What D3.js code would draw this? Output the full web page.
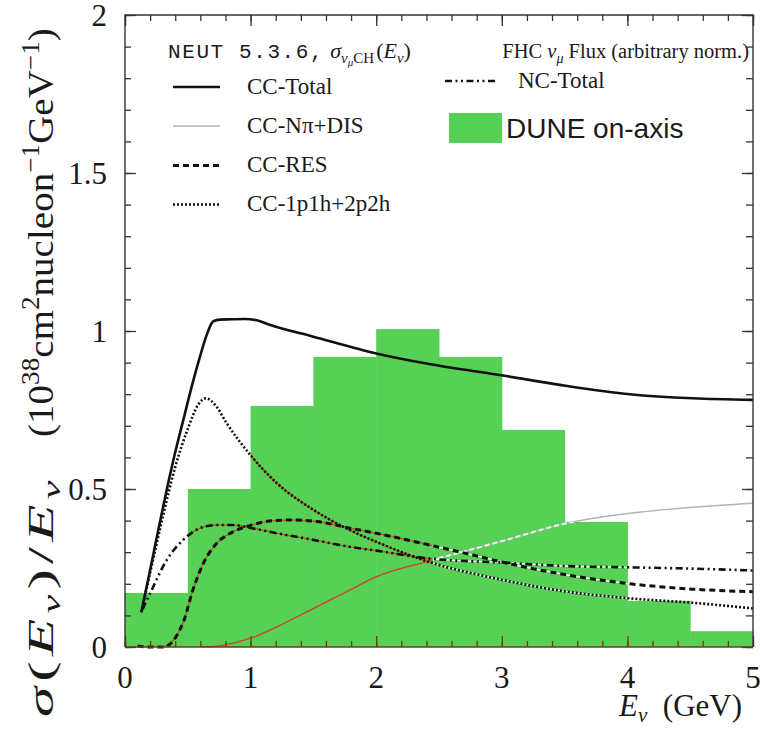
<!DOCTYPE html>
<html>
<head>
<meta charset="utf-8">
<script src="https://cdn.jsdelivr.net/npm/d3@7"></script>
<style>
  body { margin: 0; background: #fff; }
  text { fill: #1a1a1a; }
</style>
</head>
<body>
<script>
const width = 762;
const height = 736;

// flux histogram (DUNE on-axis, arbitrary norm.)
const binEdges = [0, 0.5, 1, 1.5, 2, 2.5, 3, 3.5, 4, 4.5, 5];
const fluxValues = [0.171, 0.50, 0.763, 0.918, 1.006, 0.918, 0.687, 0.396, 0.146, 0.05];

// NEUT curves
const ccTotalE = [0.13, 0.2, 0.265, 0.332, 0.398, 0.464, 0.531, 0.597, 0.65, 0.703, 0.756, 0.85, 0.95, 1.05, 1.15, 1.5, 2.0, 2.4, 3.01, 3.52, 4.02, 4.52, 5.0];
const ccTotalV = [0.11, 0.244, 0.37, 0.497, 0.613, 0.718, 0.824, 0.919, 0.987, 1.031, 1.036, 1.037, 1.038, 1.034, 1.02, 0.982, 0.929, 0.897, 0.859, 0.826, 0.80, 0.787, 0.782];

const ccNpiE = [0.6, 0.77, 1.01, 1.21, 1.5, 1.79, 2.0, 2.4, 2.77, 3.01, 3.52, 4.02, 4.52, 5.0];
const ccNpiV = [0.0, 0.005, 0.029, 0.064, 0.122, 0.18, 0.222, 0.27, 0.31, 0.336, 0.392, 0.423, 0.442, 0.455];

const ccResE = [0.1, 0.2, 0.3, 0.36, 0.41, 0.47, 0.54, 0.624, 0.73, 0.863, 1.01, 1.18, 1.34, 1.53, 1.79, 2.0, 2.4, 2.77, 3.01, 3.52, 4.02, 4.52, 5.0];
const ccResV = [0.003, 0.0, 0.0, 0.01, 0.035, 0.085, 0.18, 0.265, 0.328, 0.365, 0.386, 0.40, 0.402, 0.397, 0.376, 0.36, 0.325, 0.291, 0.268, 0.228, 0.2, 0.183, 0.175];

const ccQeE = [0.13, 0.2, 0.3, 0.4, 0.5, 0.58, 0.645, 0.72, 0.81, 1.01, 1.21, 1.5, 1.79, 2.0, 2.4, 3.01, 3.52, 4.02, 4.52, 5.0];
const ccQeV = [0.11, 0.235, 0.41, 0.57, 0.69, 0.765, 0.787, 0.765, 0.708, 0.602, 0.518, 0.434, 0.37, 0.333, 0.272, 0.212, 0.175, 0.154, 0.140, 0.122];

const ncTotalE = [0.14, 0.2, 0.332, 0.464, 0.597, 0.73, 0.862, 1.01, 1.21, 1.5, 1.79, 2.0, 2.4, 3.01, 3.52, 4.02, 4.52, 5.0];
const ncTotalV = [0.12, 0.17, 0.275, 0.339, 0.376, 0.386, 0.386, 0.376, 0.36, 0.339, 0.317, 0.305, 0.281, 0.267, 0.256, 0.252, 0.248, 0.242];

// axes
const xMajor = [0, 1, 2, 3, 4, 5];
const yMajor = [0, 0.5, 1, 1.5, 2];
const yMajorLabels = ["0", "0.5", "1", "1.5", "2"];

const green = "#56d156";
const brown = "#b4581e";

const svg = d3.select("body").append("svg")
  .attr("width", width)
  .attr("height", height);

const x = d3.scaleLinear().domain([0, 5]).range([125, 753]);
const y = d3.scaleLinear().domain([0, 2]).range([647, 15]);

// histogram
const bins = fluxValues.map((v, i) => ({ x0: binEdges[i], x1: binEdges[i + 1], v: v }));

svg.append("g").selectAll("rect")
  .data(bins)
  .join("rect")
  .attr("x", d => x(d.x0))
  .attr("y", d => y(d.v))
  .attr("width", d => x(d.x1) - x(d.x0) + 0.5)
  .attr("height", d => y(0) - y(d.v))
  .attr("fill", green);

// clip areas where the lines look tinted over the green
function makeClip(id, lo, hi) {
  const cp = svg.append("clipPath").attr("id", id);
  bins.forEach(b => {
    const a = Math.max(b.x0, lo), c = Math.min(b.x1, hi);
    if (c > a) {
      cp.append("rect")
        .attr("x", x(a)).attr("width", x(c) - x(a))
        .attr("y", y(b.v)).attr("height", y(0) - y(b.v));
    }
  });
}
makeClip("clipOrange", 0.3, 2.45);
makeClip("clipWhite", 2.45, 4.0);

const line = d3.line()
  .x(d => x(d[0]))
  .y(d => y(d[1]))
  .curve(d3.curveMonotoneX);

const pts = (E, V) => E.map((e, i) => [e, V[i]]);

const curves = {
  total: pts(ccTotalE, ccTotalV),
  npi: pts(ccNpiE, ccNpiV),
  res: pts(ccResE, ccResV),
  qe: pts(ccQeE, ccQeV),
  nc: pts(ncTotalE, ncTotalV)
};

const plot = svg.append("g").attr("fill", "none");

// CC-Npi+DIS: grey, brown over the low bins, whitish further right
plot.append("path").attr("d", line(curves.npi))
  .attr("stroke", "#b3b3b3").attr("stroke-width", 1.5);
plot.append("path").attr("d", line(curves.npi))
  .attr("clip-path", "url(#clipOrange)")
  .attr("stroke", brown).attr("stroke-width", 1.6);
plot.append("path").attr("d", line(curves.npi))
  .attr("clip-path", "url(#clipWhite)")
  .attr("stroke", "#f2f2f2").attr("stroke-width", 2).attr("stroke-dasharray", "5,3");

// tinted under-strokes for the broken lines
["res", "qe", "nc"].forEach(k => {
  plot.append("path").attr("d", line(curves[k]))
    .attr("clip-path", "url(#clipOrange)")
    .attr("stroke", brown).attr("stroke-width", 1.4);
  plot.append("path").attr("d", line(curves[k]))
    .attr("clip-path", "url(#clipWhite)")
    .attr("stroke", "#eef7ee").attr("stroke-width", 1.6);
});

const styles = {
  total: { dash: null, w: 2.6 },
  res: { dash: "6,4", w: 3 },
  qe: { dash: "2,2", w: 2.6 },
  nc: { dash: "7,3.5,2,3.5,2,3.5", w: 2.6 }
};

["nc", "res", "qe", "total"].forEach(k => {
  plot.append("path").attr("d", line(curves[k]))
    .attr("stroke", "#111")
    .attr("stroke-width", styles[k].w)
    .attr("stroke-dasharray", styles[k].dash);
});

// frame + ticks (all pointing inward)
const xMinor = d3.range(0, 5.001, 0.2);
const yMinor = d3.range(0, 2.001, 0.1);

function ticks(axisFn, scale, vals, size, tx, ty, col) {
  const g = svg.append("g")
    .attr("transform", `translate(${tx},${ty})`)
    .call(axisFn(scale).tickValues(vals).tickSize(-size).tickSizeOuter(0).tickFormat(""));
  g.select(".domain").remove();
  g.selectAll("line").attr("stroke", col).attr("stroke-width", 1.3);
  return g;
}
ticks(d3.axisBottom, x, xMinor, 6, 0, 647, "#6b3b1b");
ticks(d3.axisBottom, x, xMajor, 11, 0, 647, "#6b3b1b");
ticks(d3.axisTop, x, xMinor, 6, 0, 15, "#333");
ticks(d3.axisTop, x, xMajor, 11, 0, 15, "#333");
ticks(d3.axisLeft, y, yMinor, 6, 125, 0, "#333");
ticks(d3.axisLeft, y, yMajor, 11, 125, 0, "#333");
ticks(d3.axisRight, y, yMinor, 7, 753, 0, "#333");
ticks(d3.axisRight, y, yMajor, 11, 753, 0, "#333");

svg.append("path")
  .attr("d", `M${x(0)},${y(0)}V${y(2)}H${x(5)}V${y(0)}`)
  .attr("fill", "none").attr("stroke", "#333").attr("stroke-width", 1.4);
svg.append("line")
  .attr("x1", x(0)).attr("x2", x(5)).attr("y1", y(0)).attr("y2", y(0))
  .attr("stroke", "#6b3b1b").attr("stroke-width", 1.6);

// tick labels
const serif = "'Liberation Serif', 'DejaVu Serif', serif";

svg.append("g").selectAll("text")
  .data(xMajor)
  .join("text")
  .attr("x", d => x(d))
  .attr("y", 688)
  .attr("text-anchor", "middle")
  .style("font-family", serif)
  .style("font-size", "31px")
  .text(d => d);

svg.append("g").selectAll("text")
  .data(yMajor)
  .join("text")
  .attr("x", 107)
  .attr("y", d => y(d) + 11)
  .attr("text-anchor", "end")
  .style("font-family", serif)
  .style("font-size", "31px")
  .text((d, i) => yMajorLabels[i]);

// x title
const xt = svg.append("text")
  .attr("x", 742).attr("y", 716)
  .attr("text-anchor", "end")
  .style("font-family", serif)
  .style("font-size", "31px");
xt.append("tspan").style("font-style", "italic").text("E");
xt.append("tspan").style("font-style", "italic").style("font-size", "21px").attr("dy", 6).text("ν");
xt.append("tspan").attr("dy", -6).text("\u2002(GeV)");

// y title: two pieces, slightly widened, the math part also spaced out
function yTitlePart(from, to, stretch, build) {
  const t = svg.append("text")
    .style("font-family", serif)
    .style("font-size", "36px");
  build(t);
  const n = t.text().length;
  const len = t.node().getComputedTextLength();
  const ls = Math.max(0, ((from - to) / stretch - len) / n);
  t.style("letter-spacing", `${ls}px`)
    .attr("transform", `translate(53,${from}) rotate(-90) scale(${stretch},1)`);
}
yTitlePart(717, 475, 1.7, t => {
  t.append("tspan").style("font-style", "italic").text("σ");
  t.append("tspan").text("(");
  t.append("tspan").style("font-style", "italic").text("E");
  t.append("tspan").style("font-style", "italic").style("font-size", "25px").attr("dy", 7).text("ν");
  t.append("tspan").attr("dy", -7).text(")/");
  t.append("tspan").style("font-style", "italic").text("E");
  t.append("tspan").style("font-style", "italic").style("font-size", "25px").attr("dy", 7).text("ν");
});
yTitlePart(437, 28, 1.08, t => {
  t.append("tspan").text("(10");
  t.append("tspan").style("font-size", "25px").attr("dy", -14).text("38");
  t.append("tspan").attr("dy", 14).text("cm");
  t.append("tspan").style("font-size", "25px").attr("dy", -14).text("2");
  t.append("tspan").attr("dy", 14).text("nucleon");
  t.append("tspan").style("font-size", "25px").attr("dy", -14).text("−1");
  t.append("tspan").attr("dy", 14).text("GeV");
  t.append("tspan").style("font-size", "25px").attr("dy", -14).text("−1");
  t.append("tspan").attr("dy", 14).text(")");
});

// legend
const lg = svg.append("g");

const head = lg.append("text").attr("x", 168).attr("y", 58)
  .style("font-family", serif).style("font-size", "22px");
head.append("tspan").style("font-family", "'Liberation Mono', 'DejaVu Sans Mono', monospace")
  .style("font-size", "21px").style("letter-spacing", "1.6px").text("NEUT 5.3.6,");
head.append("tspan").attr("dx", 6).style("font-style", "italic").text("σ");
head.append("tspan").style("font-style", "italic").style("font-size", "15px").attr("dy", 5).text("ν");
head.append("tspan").style("font-style", "italic").style("font-size", "11px").attr("dy", 3).text("μ");
head.append("tspan").style("font-size", "15px").attr("dy", -3).text("CH");
head.append("tspan").attr("dy", -5).attr("dx", 2).text("(");
head.append("tspan").style("font-style", "italic").text("E");
head.append("tspan").style("font-style", "italic").style("font-size", "15px").attr("dy", 5).text("ν");
head.append("tspan").attr("dy", -5).text(")");

const fhc = lg.append("text").attr("x", 749).attr("y", 58)
  .attr("text-anchor", "end")
  .style("font-family", serif).style("font-size", "20.5px");
fhc.append("tspan").text("FHC ");
fhc.append("tspan").style("font-style", "italic").text("ν");
fhc.append("tspan").style("font-style", "italic").style("font-size", "14px").attr("dy", 5).text("μ");
fhc.append("tspan").attr("dy", -5).text(" Flux (arbitrary norm.)");

const legendNames = ["CC-Total", "CC-Nπ+DIS", "CC-RES", "CC-1p1h+2p2h", "NC-Total"];
const legendKeys = ["total", "npi", "res", "qe", "nc"];
const legendPos = [[173, 87], [173, 126], [173, 165.5], [173, 204.5], [445, 81]];
const legendTextX = [247, 247, 247, 247, 518];

legendKeys.forEach((k, i) => {
  const [lx, ly] = legendPos[i];
  const st = k === "npi" ? { dash: null, w: 1.5 } : styles[k];
  lg.append("line")
    .attr("x1", lx).attr("x2", lx + (k === "nc" ? 52 : 47))
    .attr("y1", ly).attr("y2", ly)
    .attr("stroke", k === "npi" ? "#b3b3b3" : "#111")
    .attr("stroke-width", st.w)
    .attr("stroke-dasharray", st.dash);
  lg.append("text")
    .attr("x", legendTextX[i]).attr("y", ly + 6.5)
    .style("font-family", serif).style("font-size", "23px")
    .text(legendNames[i]);
});

lg.append("rect")
  .attr("x", 449).attr("y", 113).attr("width", 53).attr("height", 30)
  .attr("fill", green);
lg.append("text")
  .attr("x", 506).attr("y", 138)
  .style("font-family", "'Liberation Sans', Arial, sans-serif")
  .style("font-size", "28px")
  .text("DUNE on-axis");
</script>
</body>
</html>
